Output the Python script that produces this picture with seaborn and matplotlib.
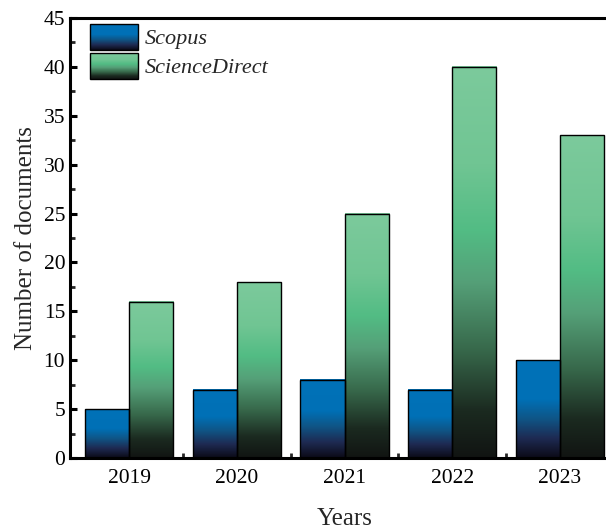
import numpy as np
import pandas as pd
import matplotlib
matplotlib.use("Agg")
import matplotlib.pyplot as plt
import seaborn as sns
from matplotlib.colors import LinearSegmentedColormap
from matplotlib.legend_handler import HandlerBase
from matplotlib.image import BboxImage
from matplotlib.transforms import Bbox, TransformedBbox
from matplotlib.patches import Rectangle
from matplotlib.ticker import MultipleLocator, FixedLocator

years = ["2019", "2020", "2021", "2022", "2023"]
scopus = [5, 7, 8, 7, 10]
sciencedirect = [16, 18, 25, 40, 33]
sources = ["Scopus", "ScienceDirect"]

df = pd.DataFrame({
    "Years": years * 2,
    "Count": scopus + sciencedirect,
    "Source": [sources[0]] * len(years) + [sources[1]] * len(years),
})

cmap_scopus = LinearSegmentedColormap.from_list(
    "scopus", [(0.0, "#0b0a16"), (0.2, "#1e2a52"), (0.4, "#0f5586"),
               (0.6, "#0070b6"), (1.0, "#0072b8")])
cmap_sd = LinearSegmentedColormap.from_list(
    "sd", [(0.0, "#111412"), (0.12, "#1b2a20"), (0.28, "#386a4c"),
           (0.45, "#55a078"), (0.58, "#52bc84"), (0.75, "#70c593"),
           (1.0, "#7cca9c")])
cmaps = {sources[0]: cmap_scopus, sources[1]: cmap_sd}

sns.set_theme(style="ticks")
plt.rcParams["font.family"] = ["Liberation Serif", "DejaVu Serif"]
plt.rcParams["mathtext.fontset"] = "stix"

fig = plt.figure(figsize=(6.06, 5.29), dpi=100)
ax = fig.add_axes([70 / 606, 1 - 458 / 529, 549 / 606, 440 / 529])

sns.barplot(data=df, x="Years", y="Count", hue="Source", order=years,
            hue_order=sources, palette=["#0072b8", "#7cca9c"], width=0.82,
            ax=ax, legend=False, saturation=1)

grad = np.linspace(0, 1, 256).reshape(-1, 1)
for container, src in zip(ax.containers, sources):
    for patch in container:
        x0, y0 = patch.get_x(), patch.get_y()
        w, h = patch.get_width(), patch.get_height()
        ax.imshow(grad, cmap=cmaps[src], origin="lower", aspect="auto",
                  extent=[x0, x0 + w, y0, y0 + h], zorder=1.5,
                  interpolation="bilinear")
        patch.set_facecolor("none")
        patch.set_edgecolor("black")
        patch.set_linewidth(1.0)
        patch.set_zorder(2)

ax.set_xlim(-0.55, 4.55)
ax.set_ylim(0, 45)
ax.yaxis.set_major_locator(MultipleLocator(5))
ax.yaxis.set_minor_locator(MultipleLocator(2.5))
ax.xaxis.set_minor_locator(FixedLocator([0.5, 1.5, 2.5, 3.5]))

for s in ax.spines.values():
    s.set_linewidth(2.2)
    s.set_color("black")
ax.tick_params(which="major", direction="in", length=5, width=2.2,
               labelsize=15.5, colors="black", top=False, right=False)
ax.tick_params(which="minor", direction="in", length=3.5, width=2.0,
               top=False, right=False)
ax.tick_params(axis="x", which="major", length=0, pad=8)

ax.set_xlabel("Years", fontsize=18, labelpad=14)
ax.set_ylabel("Number of documents", fontsize=18, labelpad=5)


class GradHandler(HandlerBase):
    def __init__(self, cmap):
        super().__init__()
        self.cmap = cmap

    def create_artists(self, legend, orig_handle, xdescent, ydescent,
                       width, height, fontsize, trans):
        bb = Bbox.from_bounds(-xdescent, -ydescent, width, height)
        img = BboxImage(TransformedBbox(bb, trans), cmap=self.cmap,
                        interpolation="bilinear", origin="lower")
        img.set_data(grad)
        rect = Rectangle((-xdescent, -ydescent), width, height,
                         facecolor="none", edgecolor="black", lw=1.0,
                         transform=trans)
        return [img, rect]


h1 = Rectangle((0, 0), 1, 1)
h2 = Rectangle((0, 0), 1, 1)
leg = ax.legend([h1, h2], sources, loc="upper left",
                bbox_to_anchor=(20 / 549, 1 - 6 / 440), frameon=False,
                handler_map={h1: GradHandler(cmap_scopus),
                             h2: GradHandler(cmap_sd)},
                prop={"style": "italic", "size": 16},
                handlelength=2.15, handleheight=1.4, handletextpad=0.3,
                labelspacing=0.15, borderaxespad=0, borderpad=0)

fig.savefig("out.png", dpi=100)
